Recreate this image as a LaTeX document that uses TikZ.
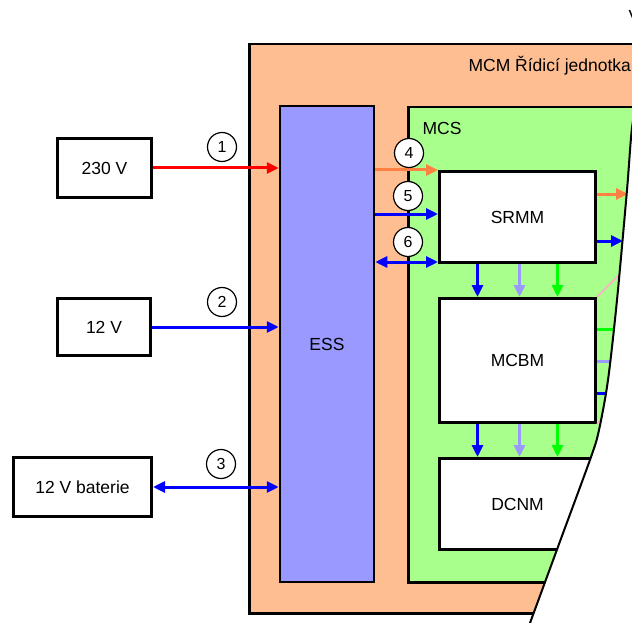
\documentclass[tikz,border=0pt]{standalone}
\usepackage{fontspec}
\setmainfont{Liberation Sans}
\usetikzlibrary{positioning, arrows.meta, calc}

\definecolor{mcmorange}{RGB}{255,190,145}
\definecolor{mcsgreen}{RGB}{168,255,140}
\definecolor{esspurple}{RGB}{153,153,255}
\definecolor{arrorange}{RGB}{255,128,64}
\definecolor{arrpink}{RGB}{255,170,200}

\tikzset{
  unitbox/.style={draw, line width=3pt, fill=white, inner sep=0pt},
  numcirc/.style={draw, circle, line width=1.2pt, fill=white, minimum size=29pt, inner sep=0pt, font=\fontsize{16}{18}\selectfont},
  conn/.style={line width=3pt, -{Triangle[length=12pt,width=11pt]}},
  biconn/.style={line width=3pt, {Triangle[length=12pt,width=11pt]}-{Triangle[length=12pt,width=11pt]}},
  plainline/.style={line width=3pt},
}

\begin{document}
\begin{tikzpicture}[x=1pt, y=-1pt, every node/.style={font=\fontsize{17.5}{20}\selectfont}]
\useasboundingbox (0,0) rectangle (632,623);
\clip (0,0) rectangle (632,623);
% Outer control unit and inner system
\node[draw, line width=2.5pt, fill=mcmorange, anchor=north west, minimum width=460, minimum height=569] (mcm) at (248,43) {};
\node[anchor=west] (mcmlabel) at (465,66) {MCM Řídicí jednotka};
\node[draw, line width=2.5pt, fill=mcsgreen, anchor=north west, minimum width=300, minimum height=475] (mcs) at (407,106) {};
\node[anchor=west] (mcslabel) at (419,128) {MCS};
\node[anchor=west] (vcut) at (625,16) {V};
% Power supply block
\node[draw, line width=2.5pt, fill=esspurple, minimum width=94, minimum height=476] (ess) at (327,344) {ESS};
% Sources on the left
\node[unitbox, minimum width=94, minimum height=58] (v230) at (104.5,168) {230 V};
\node[unitbox, minimum width=93, minimum height=57] (v12) at (104,327) {12 V};
\node[unitbox, minimum width=138, minimum height=59] (bat) at (82.5,487) {12 V baterie};
% Modules
\node[unitbox, minimum width=156, minimum height=91] (srmm) at (517.5,217) {SRMM};
\node[unitbox, minimum width=156, minimum height=124] (mcbm) at (517.5,360.5) {MCBM};
\node[unitbox, minimum width=156, minimum height=91] (dcnm) at (517.5,504) {DCNM};
% Supply connections
\foreach \src/\col/\sty in {v230/red/conn, v12/blue/conn, bat/blue/biconn} {
  \draw[\sty, \col] (\src.east) -- (\src.east -| ess.west);
}
\coordinate (inb) at ($(srmm.west)+(0,-3)$);
\coordinate (inc) at ($(srmm.south west)+(0,-2)$);
\draw[conn, arrorange] (srmm.north west -| ess.east) -- (srmm.north west);
\draw[conn, blue] (inb -| ess.east) -- (inb);
\draw[biconn, blue] (inc -| ess.east) -- (inc);
% Numbered markers
\foreach \n/\px/\py in {1/222/147, 2/222/302, 3/221/464, 4/409/153, 5/408/196, 6/408/242} {
  \node[numcirc] (c\n) at (\px,\py) {\n};
}
% Buses between modules
\foreach \dx/\col in {-40/blue, 2/esspurple, 40/green} {
  \draw[conn, \col] ($(srmm.south)+(\dx,0)$) -- ($(mcbm.north)+(\dx,0)$);
  \draw[conn, \col] ($(mcbm.south)+(\dx,0)$) -- ($(dcnm.north)+(\dx,0)$);
}
% Outputs to the right (torn off)
\coordinate (outa) at (628,194);
\coordinate (outb) at (623,241);
\draw[conn, arrorange] (srmm.east |- outa) -- (outa);
\draw[conn, blue] (srmm.east |- outb) -- (outb);
\foreach \py/\col in {329/green, 361/esspurple, 393/blue} {
  \coordinate (mout\py) at (640,\py);
  \draw[plainline, \col] (mcbm.east |- mout\py) -- (mout\py);
}
\coordinate (pinka) at (640,254);
\coordinate (pinkb) at (640,381);
\draw[line width=1.5pt, arrpink] (mcbm.north east) -- (pinka);
\draw[line width=1.5pt, arrpink] (mcbm.south east) -- (pinkb);
% Torn edge
\fill[white] plot[smooth] coordinates {(640,80) (632,128) (627,190) (617,300) (608,380) (599,430) (591,457) (560.5,540) (530,623) (520,650)} -- (700,650) -- (700,80) -- cycle;
\draw[line width=2pt] plot[smooth] coordinates {(640,80) (632,128) (627,190) (617,300) (608,380) (599,430) (591,457) (560.5,540) (530,623) (520,650)};
\end{tikzpicture}
\end{document}
